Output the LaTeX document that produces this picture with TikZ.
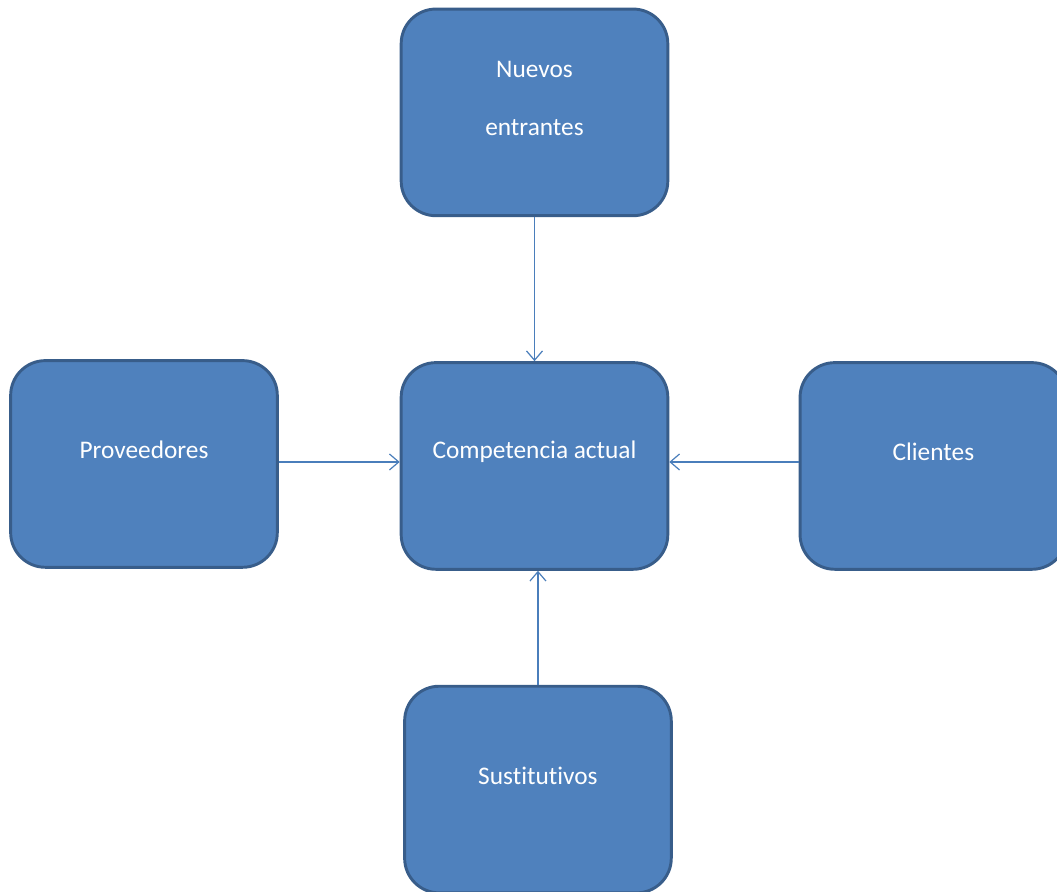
\documentclass[tikz,border=0pt]{standalone}
\usepackage{fontspec}
\setmainfont{Carlito}[Ligatures=NoCommon]
\usetikzlibrary{positioning,arrows.meta}

\definecolor{boxfill}{HTML}{4F81BD}
\definecolor{boxline}{HTML}{385D8A}
\definecolor{arrowline}{HTML}{4A7EBB}

\begin{document}
\begin{tikzpicture}[font=\fontsize{19}{43.5}\selectfont,
	block/.style = { rectangle, rounded corners=26pt, draw=boxline,
	line width=2.2pt, fill=boxfill, minimum width=200pt, minimum height=155pt},
	caption/.style = { text=white, align=center, yshift=10.5pt },
	link/.style = { draw=arrowline, line width=0.9pt,
	-{Straight Barb[length=7pt, width=12pt]} } ]

  \useasboundingbox (-400.9pt,349.5pt) rectangle (391.9pt,-318.8pt);

  \node [name=actual, block] {};
  \node [name=nuevos, block, above=108pt of actual] {};
  \node [name=proveedores, block, left=90.7pt of actual, yshift=1.5pt] {};
  \node [name=clientes, block, right=97pt of actual] {};
  \node [name=sustitutivos, block, below=85.5pt of actual, xshift=2.6pt] {};

  % textos
  \node [name=tactual, caption] at (actual.center) {Competencia actual};
  \node [name=tnuevos, caption] at (nuevos.center) {Nuevos\\entrantes};
  \node [name=tproveedores, caption] at (proveedores.center) {Proveedores};
  \node [name=tclientes, caption] at (clientes.center) {Clientes};
  \node [name=tsustitutivos, caption] at (sustitutivos.center) {Sustitutivos};

  % flechas hacia el centro
  \coordinate (entrada) at ([yshift=3pt]actual.center);
  \draw [link] (nuevos.south) -- (actual.north);
  \draw [link] (proveedores.east |- entrada) -- (actual.west |- entrada);
  \draw [link] (clientes.west |- entrada) -- (actual.east |- entrada);
  \draw [link] (sustitutivos.north) -- (sustitutivos.north |- actual.south);
\end{tikzpicture}
\end{document}
